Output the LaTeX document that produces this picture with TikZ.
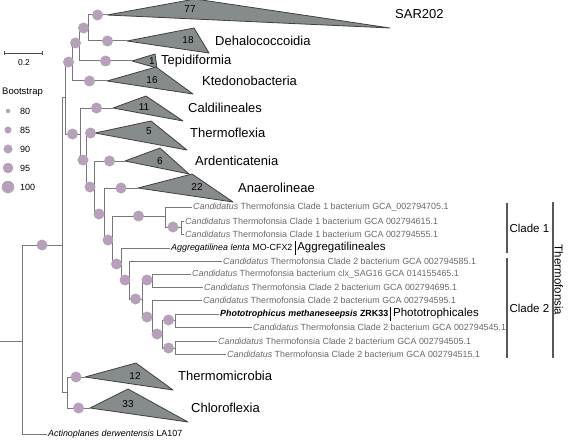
\documentclass[tikz,border=0pt]{standalone}
\usepackage{fontspec}
\setmainfont{Liberation Sans}
\usepackage{graphicx}
\usepackage{tikz}
\usetikzlibrary{arrows.meta,positioning,calc}
\usepackage{xcolor}
\definecolor{bootpurple}{RGB}{182,160,186}
\definecolor{cladegray}{RGB}{134,139,139}
\definecolor{branchgray}{RGB}{120,120,120}
\definecolor{leafgray}{RGB}{105,105,105}

\begin{document}
\begin{tikzpicture}[x=1pt, y=-1pt,
    branch/.style={draw=branchgray, line width=1pt},
    boot/.style={circle, fill=bootpurple, inner sep=0pt, minimum size=11pt},
    clade/.style={draw=black!75, fill=cladegray, line width=0.8pt, line join=round},
    cnt/.style={font=\fontsize{10}{10}\selectfont, inner sep=0pt},
    grp/.style={anchor=west, font=\fontsize{13}{13}\selectfont, inner sep=0pt},
    leaf/.style={anchor=west, font=\fontsize{8.9}{9}\selectfont, text=leafgray, inner sep=1.5pt},
    order/.style={font=\fontsize{11.5}{11.5}\selectfont, inner xsep=2pt, inner ysep=1pt},
    bracket/.style={draw=black!65, line width=1.1pt},
    legtxt/.style={anchor=west, font=\fontsize{9}{9}\selectfont, inner sep=0pt}
]
\useasboundingbox (0,0) rectangle (569,441);

% internal nodes
\coordinate (base) at (0,341);
\coordinate (root) at (22,341);
\coordinate (G) at (62,245);
\coordinate (F) at (65,98);
\coordinate (D) at (72,62);
\coordinate (C) at (79,43);
\coordinate (B) at (88,28);
\coordinate (E) at (80,134);
\coordinate (I) at (86,160);
\coordinate (J) at (94,187);
\coordinate (K) at (104,214);
\coordinate (L) at (112,240);
\coordinate (M) at (165,216);
\coordinate (P) at (181,227);
\coordinate (N) at (121,264);
\coordinate (O) at (129,280);
\coordinate (Q) at (142,299);
\coordinate (R) at (152,280);
\coordinate (T) at (152,317);
\coordinate (V) at (162,334);
\coordinate (U) at (175,320);
\coordinate (W) at (175,348);
\coordinate (H) at (67,392);

% collapsed clades
\coordinate (sarA) at (107,15);
\coordinate (dehaA) at (127,41);
\coordinate (tepiA) at (132,61);
\coordinate (ktedA) at (107,81);
\coordinate (caldA) at (113,108);
\coordinate (thflA) at (95,133);
\coordinate (ardA) at (125,161);
\coordinate (anaA) at (138,188);
\coordinate (thmA) at (85,377);
\coordinate (chlA) at (90,408);

\draw[clade] (sarA) -- (195,-1) -- (390,28) -- cycle;
\draw[clade] (dehaA) -- (194,28) -- (209,53) -- cycle;
\draw[clade] (tepiA) -- (155,54) -- (157,68) -- cycle;
\draw[clade] (ktedA) -- (156,67) -- (193,94) -- cycle;
\draw[clade] (caldA) -- (146,96) -- (183,121) -- cycle;
\draw[clade] (thflA) -- (151,121) -- (187,150) -- cycle;
\draw[clade] (ardA) -- (160,148) -- (189,174) -- cycle;
\draw[clade] (anaA) -- (192,174) -- (233,202) -- cycle;
\draw[clade] (thmA) -- (136,363) -- (173,390) -- cycle;
\draw[clade] (chlA) -- (128,389) -- (188,422) -- cycle;

\node[cnt] (n77) at (190,9) {77};
\node[cnt] (n18) at (188,40) {18};
\node[cnt] (n1) at (152,61) {1};
\node[cnt] (n16) at (152,80) {16};
\node[cnt] (n11) at (144,107) {11};
\node[cnt] (n5) at (149,131) {5};
\node[cnt] (n6) at (160,161) {6};
\node[cnt] (n22) at (197,187) {22};
\node[cnt] (n12) at (135,376) {12};
\node[cnt] (n33) at (128,404) {33};

\node[grp] (sar) at (395,14) {SAR202};
\node[grp] (deha) at (215,41) {Dehalococcoidia};
\node[grp] (tepi) at (161,61) {Tepidiformia};
\node[grp] (kted) at (202,81) {Ktedonobacteria};
\node[grp] (cald) at (188,108) {Caldilineales};
\node[grp] (thfl) at (190,133) {Thermoflexia};
\node[grp] (ard) at (195,161) {Ardenticatenia};
\node[grp] (ana) at (238,188) {Anaerolineae};
\node[grp] (thm) at (178,376) {Thermomicrobia};
\node[grp] (chl) at (191,408) {Chloroflexia};

% leaves
\node[leaf] (l705) at (191.5,207) {\textit{Candidatus} Thermofonsia Clade 1 bacterium GCA\_002794705.1};
\node[leaf] (l615) at (183.5,221) {\textit{Candidatus} Thermofonsia Clade 1 bacterium GCA 002794615.1};
\node[leaf] (l555) at (183.5,234) {\textit{Candidatus} Thermofonsia Clade 1 bacterium GCA 002794555.1};
\node[leaf, text=black] (agg) at (169.5,248) {\textit{Aggregatilinea lenta} MO-CFX2};
\node[order, right=1pt of agg] (aggord) {Aggregatilineales};
\node[leaf] (l585) at (221.5,261) {\textit{Candidatus} Thermofonsia Clade 2 bacterium GCA 002794585.1};
\node[leaf] (l465) at (190.5,274) {\textit{Candidatus} Thermofonsia bacterium clx\_SAG16 GCA 014155465.1};
\node[leaf] (l695) at (202.5,287) {\textit{Candidatus} Thermofonsia Clade 2 bacterium GCA 002794695.1};
\node[leaf] (l595) at (201.5,300) {\textit{Candidatus} Thermofonsia Clade 2 bacterium GCA 002794595.1};
\node[leaf, text=black] (photo) at (218.5,314) {\resizebox{168pt}{\height}{\bfseries\itshape Phototrophicus methaneseepsis \upshape ZRK33}};
\node[order, right=1pt of photo] (photoord) {Phototrophicales};
\node[leaf] (l545) at (251.5,327) {\textit{Candidatus} Thermofonsia Clade 2 bacterium GCA 002794545.1};
\node[leaf] (l505) at (216.5,341) {\textit{Candidatus} Thermofonsia Clade 2 bacterium GCA 002794505.1};
\node[leaf] (l515) at (225.5,354) {\textit{Candidatus} Thermofonsia Clade 2 bacterium GCA 002794515.1};
\node[leaf, text=black] (act) at (46.5,434) {\textit{Actinoplanes derwentensis} LA107};

\draw[draw=black, line width=0.9pt] (aggord.north west) -- (aggord.south west);
\draw[draw=black, line width=0.9pt] (photoord.north west) -- (photoord.south west);

% branches
\draw[branch] (base) -- (root);
\draw[branch] (root) |- (G);
\draw[branch] (root) |- (act.west);
\draw[branch] (G) |- (F);
\draw[branch] (G) |- (H);
\draw[branch] (F) |- (D);
\draw[branch] (F) |- (E);
\draw[branch] (D) |- (C);
\draw[branch] (D) |- (ktedA);
\draw[branch] (C) |- (B);
\draw[branch] (C) |- (tepiA);
\draw[branch] (B) |- (sarA);
\draw[branch] (B) |- (dehaA);
\draw[branch] (E) |- (caldA);
\draw[branch] (E) |- (I);
\draw[branch] (I) |- (thflA);
\draw[branch] (I) |- (J);
\draw[branch] (J) |- (ardA);
\draw[branch] (J) |- (K);
\draw[branch] (K) |- (anaA);
\draw[branch] (K) |- (L);
\draw[branch] (L) |- (M);
\draw[branch] (L) |- (N);
\draw[branch] (M) |- (l705.west);
\draw[branch] (M) |- (P);
\draw[branch] (P) |- (l615.west);
\draw[branch] (P) |- (l555.west);
\draw[branch] (N) |- (agg.west);
\draw[branch] (N) |- (O);
\draw[branch] (O) |- (l585.west);
\draw[branch] (O) |- (Q);
\draw[branch] (Q) |- (R);
\draw[branch] (Q) |- (T);
\draw[branch] (R) |- (l465.west);
\draw[branch] (R) |- (l695.west);
\draw[branch] (T) |- (l595.west);
\draw[branch] (T) |- (V);
\draw[branch] (V) |- (U);
\draw[branch] (V) |- (W);
\draw[branch] (U) |- (photo.west);
\draw[branch] (U) |- (l545.west);
\draw[branch] (W) |- (l505.west);
\draw[branch] (W) |- (l515.west);
\draw[branch] (H) |- (thmA);
\draw[branch] (H) |- (chlA);

% bootstrap circles
\node[boot] (bG) at ($(root|-G)!.5!(G)$) {};
\node[boot] (bD) at ($(F|-D)!.5!(D)$) {};
\node[boot] (bE) at ($(F|-E)!.5!(E)$) {};
\node[boot] (bC) at ($(D|-C)!.5!(C)$) {};
\node[boot] (bkted) at ($(D|-ktedA)!.5!(ktedA)$) {};
\node[boot] (bB) at ($(C|-B)!.5!(B)$) {};
\node[boot] (btepi) at ($(C|-tepiA)!.5!(tepiA)$) {};
\node[boot] (bsar) at ($(B|-sarA)!.5!(sarA)$) {};
\node[boot] (bdeha) at ($(B|-dehaA)!.5!(dehaA)$) {};
\node[boot] (bcald) at ($(E|-caldA)!.5!(caldA)$) {};
\node[boot] (bI) at ($(E|-I)!.5!(I)$) {};
\node[boot] (bthfl) at ($(I|-thflA)!.5!(thflA)$) {};
\node[boot] (bJ) at ($(I|-J)!.5!(J)$) {};
\node[boot] (bard) at ($(J|-ardA)!.5!(ardA)$) {};
\node[boot] (bK) at ($(J|-K)!.5!(K)$) {};
\node[boot] (bana) at ($(K|-anaA)!.5!(anaA)$) {};
\node[boot] (bL) at ($(K|-L)!.5!(L)$) {};
\node[boot] (bM) at ($(L|-M)!.5!(M)$) {};
\node[boot] (bN) at ($(L|-N)!.5!(N)$) {};
\node[boot] (bP) at ($(M|-P)!.5!(P)$) {};
\node[boot] (bO) at ($(N|-O)!.5!(O)$) {};
\node[boot] (bQ) at ($(O|-Q)!.5!(Q)$) {};
\node[boot] (bR) at ($(Q|-R)!.5!(R)$) {};
\node[boot] (bT) at ($(Q|-T)!.5!(T)$) {};
\node[boot] (bV) at ($(T|-V)!.5!(V)$) {};
\node[boot] (bU) at ($(V|-U)!.5!(U)$) {};
\node[boot] (bW) at ($(V|-W)!.5!(W)$) {};
\node[boot] (bthm) at ($(H|-thmA)!.5!(thmA)$) {};
\node[boot] (bchl) at ($(H|-chlA)!.5!(chlA)$) {};

% clade brackets
\coordinate (c1t) at (507,203);
\coordinate (c1b) at (507,253);
\coordinate (c2t) at (507,258);
\coordinate (c2b) at (507,358);
\coordinate (tft) at (553,202);
\coordinate (tfb) at (553,358);
\draw[bracket] (c1t) -- (c1b) node[midway, anchor=west, order] (clade1) {Clade 1};
\draw[bracket] (c2t) -- (c2b) node[midway, anchor=west, order] (clade2) {Clade 2};
\draw[bracket] (tft) -- (tfb) node[midway, anchor=south, rotate=-90, order] (tfs) {Thermofonsia};

% scale bar and legend
\coordinate (sbl) at (4,53);
\coordinate (sbr) at (43,53);
\draw[draw=black!70, line width=0.8pt, {Bar[width=4pt]}-{Bar[width=4pt]}] (sbl) -- (sbr);
\node[font=\fontsize{8.5}{8.5}\selectfont] (sb) at (24,63) {0.2};

\node[legtxt, font=\fontsize{9.5}{9.5}\selectfont] (bst) at (2,92) {Bootstrap};
\node[boot, minimum size=4.5pt] (k80) at (8,111) {};
\node[boot, minimum size=7pt] (k85) at (8,130) {};
\node[boot, minimum size=9pt] (k90) at (8,149) {};
\node[boot, minimum size=10.5pt] (k95) at (8,168) {};
\node[boot, minimum size=12.5pt] (k100) at (8,187) {};
\node[legtxt] (t80) at (20,111) {80};
\node[legtxt] (t85) at (20,130) {85};
\node[legtxt] (t90) at (20,149) {90};
\node[legtxt] (t95) at (20,168) {95};
\node[legtxt] (t100) at (20,187) {100};
\end{tikzpicture}
\end{document}
